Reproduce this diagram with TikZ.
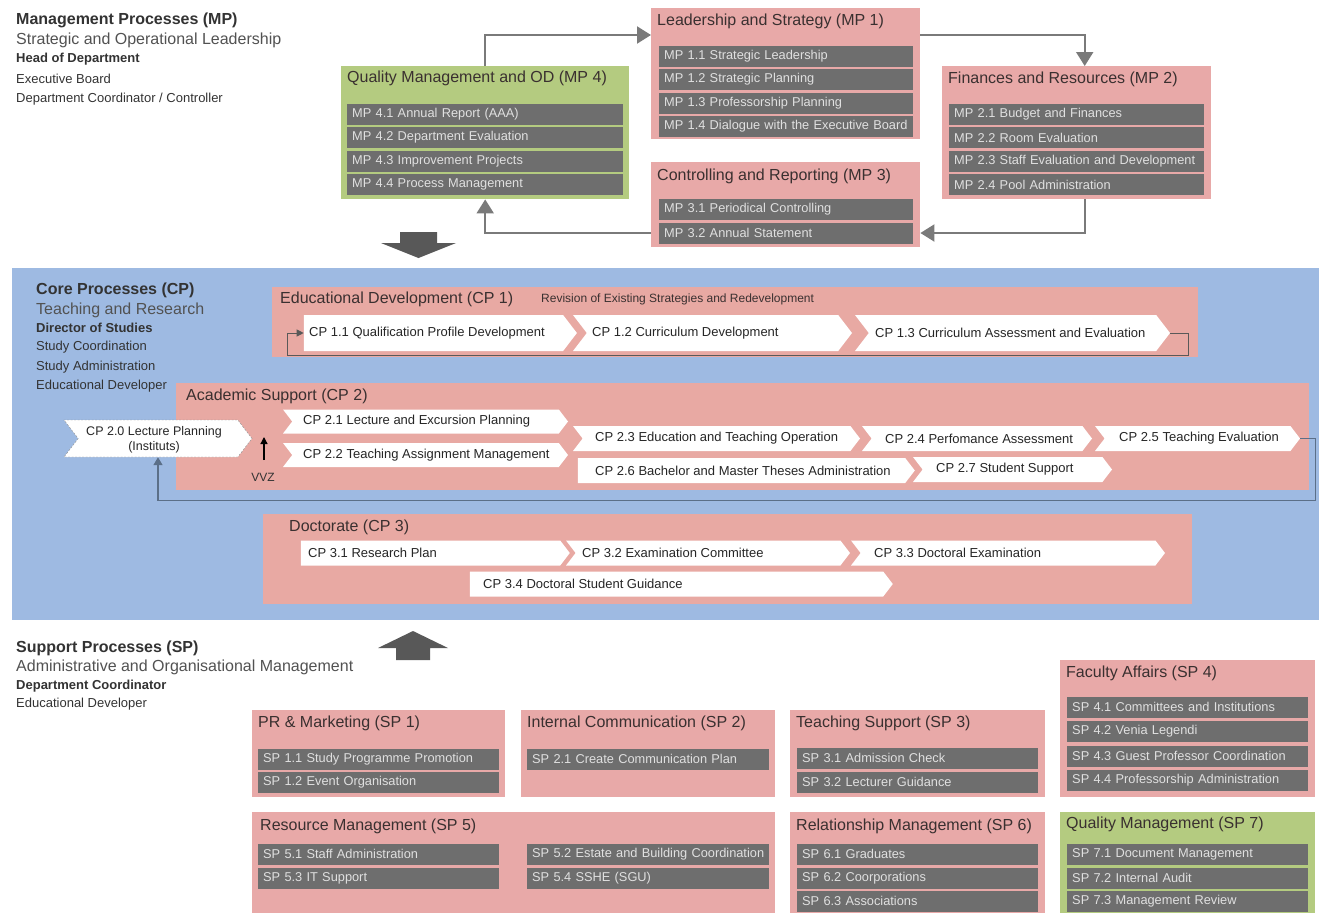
\documentclass[tikz,border=0pt]{standalone}
\usepackage{fontspec}
\setmainfont{Liberation Sans}
\usetikzlibrary{shapes.symbols,arrows.meta,calc}

\definecolor{mppink}{HTML}{E8A9A8}
\definecolor{cppink}{HTML}{E8A9A3}
\definecolor{qmgreen}{HTML}{B4CB80}
\definecolor{cpblue}{HTML}{9EBAE2}
\definecolor{itemgrey}{HTML}{6E6E6E}
\definecolor{itemtext}{HTML}{E0E0E0}
\definecolor{titletext}{HTML}{3A3030}
\definecolor{headtext}{HTML}{333333}
\definecolor{linegrey}{HTML}{7A7A7A}
\definecolor{loopblue}{HTML}{5B6F88}
\definecolor{blockgrey}{HTML}{585858}

\tikzset{
  box/.style={fill=#1, draw=none, inner sep=0, anchor=north west},
  boxtitle/.style={anchor=west, inner sep=0, font=\fontsize{16}{18}\selectfont, text=titletext},
  itm/.style={fill=itemgrey, text=itemtext, font=\fontsize{12.8}{14}\selectfont,
    minimum height=21, inner xsep=5, inner ysep=0, anchor=west, align=left, text width=#1},
  head/.style={anchor=west, inner sep=0, text=headtext, font=\fontsize{16}{18}\selectfont\bfseries},
  sub/.style={anchor=west, inner sep=0, text=headtext!85, font=\fontsize{16}{18}\selectfont},
  role/.style={anchor=west, inner sep=0, text=headtext, font=\fontsize{13}{15}\selectfont},
  rolebold/.style={role, font=\fontsize{13}{15}\selectfont\bfseries},
  chev/.style={shape=signal, signal to=east, signal from=west, signal pointer angle=105,
    fill=white, draw=none, inner sep=0, minimum height=#1},
  chevflat/.style={chev=#1, signal from=nowhere},
  chevtext/.style={anchor=west, inner sep=0, font=\fontsize{13}{15}\selectfont, text=black!85},
  flow/.style={draw=linegrey, line width=2, -{Triangle[width=17,length=14]}},
  loopone/.style={draw=black!65, line width=1, -{Triangle[width=7,length=7]}},
  looptwo/.style={draw=loopblue, line width=1.5, -{Triangle[width=9,length=8]}},
  blockarrow/.style={fill=blockgrey},
}

\begin{document}
\begin{tikzpicture}[x=1pt,y=-1pt]
\useasboundingbox (0,0) rectangle (1319,913);
\fill[white] (0,0) rectangle (1319,913);

% ---------------- Management processes ----------------
\node[head] (mph) at (16,20) {Management Processes (MP)};
\node[sub] (mps) at (16,40) {Strategic and Operational Leadership};
\node[rolebold] (mpr1) at (16,59) {Head of Department};
\node[role] (mpr2) at (16,79) {Executive Board};
\node[role] (mpr3) at (16,99) {Department Coordinator / Controller};

% MP 1
\node[box=mppink, minimum width=269, minimum height=131] (mp1) at (651,8) {};
\node[boxtitle] (mp1t) at (657,21) {Leadership and Strategy (MP 1)};
\node[itm=244] (mp11) at (659,56) {MP 1.1 Strategic Leadership};
\node[itm=244] (mp12) at (659,79.5) {MP 1.2 Strategic Planning};
\node[itm=244] (mp13) at (659,103) {MP 1.3 Professorship Planning};
\node[itm=244] (mp14) at (659,126.5) {MP 1.4 Dialogue with the Executive Board};

% MP 4
\node[box=qmgreen, minimum width=288, minimum height=133] (mp4) at (341,66) {};
\node[boxtitle] (mp4t) at (347,78) {Quality Management and OD (MP 4)};
\node[itm=266] (mp41) at (347,114) {MP 4.1 Annual Report (AAA)};
\node[itm=266] (mp42) at (347,137.5) {MP 4.2 Department Evaluation};
\node[itm=266] (mp43) at (347,161) {MP 4.3 Improvement Projects};
\node[itm=266] (mp44) at (347,184.5) {MP 4.4 Process Management};

% MP 2
\node[box=mppink, minimum width=269, minimum height=133] (mp2) at (942,66) {};
\node[boxtitle] (mp2t) at (948,79) {Finances and Resources (MP 2)};
\node[itm=245] (mp21) at (949,114) {MP 2.1 Budget and Finances};
\node[itm=245] (mp22) at (949,137.5) {MP 2.2 Room Evaluation};
\node[itm=245] (mp23) at (949,161) {MP 2.3 Staff Evaluation and Development};
\node[itm=245] (mp24) at (949,184.5) {MP 2.4 Pool Administration};

% MP 3
\node[box=mppink, minimum width=269, minimum height=85] (mp3) at (651,162) {};
\node[boxtitle] (mp3t) at (657,176) {Controlling and Reporting (MP 3)};
\node[itm=244] (mp31) at (659,209) {MP 3.1 Periodical Controlling};
\node[itm=244] (mp32) at (659,233) {MP 3.2 Annual Statement};

% management cycle
\coordinate (cyctop) at (0,35);
\coordinate (cycbot) at (0,233);
\draw[flow] (mp4.north) |- (mp1.west |- cyctop);
\draw[flow] (mp1.east |- cyctop) -| ([xshift=8]mp2.north);
\draw[flow] ([xshift=8]mp2.south) |- (mp3.east |- cycbot);
\draw[flow] (mp3.west |- cycbot) -| (mp4.south);

% block arrow from management to core processes
\fill[blockgrey] (400,232) -- (437,232) -- (437,243) -- (456,243) -- (418.5,258)
  -- (381,243) -- (400,243) -- cycle;

% ---------------- Core processes ----------------
\node[box=cpblue, minimum width=1307, minimum height=352] (cpband) at (12,268) {};

\node[head] (cph) at (36,290) {Core Processes (CP)};
\node[sub] (cps) at (36,310) {Teaching and Research};
\node[rolebold] (cpr1) at (36,328) {Director of Studies};
\node[role] (cpr2) at (36,347) {Study Coordination};
\node[role] (cpr3) at (36,367) {Study Administration};
\node[role] (cpr4) at (36,386) {Educational Developer};

% CP 1
\node[box=cppink, minimum width=926, minimum height=70] (cp1) at (272,287) {};
\node[boxtitle] (cp1t) at (280,299) {Educational Development (CP 1)};
\node[anchor=west, inner sep=0, font=\fontsize{12}{14}\selectfont, text=titletext] (cp1r) at (541,299)
  {Revision of Existing Strategies and Redevelopment};
\node[chevflat=36, minimum width=273] (c11) at (433.5,333) {};
\node[chevtext] (c11t) at (309,333) {CP 1.1 Qualification Profile Development};
\node[chev=36, minimum width=279] (c12) at (712.5,333) {};
\node[chevtext] (c12t) at (592,333) {CP 1.2 Curriculum Development};
\node[chev=36, minimum width=315] (c13) at (1012.5,333) {};
\node[chevtext] (c13t) at (875,333) {CP 1.3 Curriculum Assessment and Evaluation};
\draw[loopone] (c13.east) -- ++(18,0) -- ++(0,22) -| ([xshift=-16]c11.west) -- (c11.west);

% CP 2
\node[box=cppink, minimum width=1133, minimum height=107] (cp2) at (176,383) {};
\node[boxtitle] (cp2t) at (186,396) {Academic Support (CP 2)};
\node[chev=37, minimum width=188, draw=black!45, dash pattern=on 2pt off 1.5pt] (c20) at (158,438.5) {};
\node[chevtext, anchor=center, align=center, font=\fontsize{12.5}{15}\selectfont] (c20t) at (154,439.5)
  {CP 2.0 Lecture Planning\\(Instituts)};
\node[chev=24, minimum width=285] (c21) at (425.5,421.5) {};
\node[chevtext] (c21t) at (303,421.5) {CP 2.1 Lecture and Excursion Planning};
\node[chev=24, minimum width=285] (c22) at (425.5,455) {};
\node[chevtext] (c22t) at (303,455) {CP 2.2 Teaching Assignment Management};
\node[chev=25, minimum width=287] (c23) at (716.5,438.5) {};
\node[chevtext] (c23t) at (595,438.5) {CP 2.3 Education and Teaching Operation};
\node[chev=25, minimum width=230] (c24) at (977,438.5) {};
\node[chevtext] (c24t) at (885,438.5) {CP 2.4 Perfomance Assessment};
\node[chev=25, minimum width=205] (c25) at (1197.5,438.5) {};
\node[chevtext] (c25t) at (1119,438.5) {CP 2.5 Teaching Evaluation};
\node[chevflat=25, minimum width=337] (c26) at (741.5,470.5) {};
\node[chevtext] (c26t) at (595,470.5) {CP 2.6 Bachelor and Master Theses Administration};
\node[chev=25, minimum width=199] (c27) at (1012.5,469.5) {};
\node[chevtext] (c27t) at (936,469.5) {CP 2.7 Student Support};
\draw[looptwo] (c25.east) -- ++(15,0) -- ++(0,62) -| (c20.south);

\node[inner sep=0, font=\fontsize{12}{14}\selectfont, text=black!80] (vvz) at (263,477) {VVZ};
\coordinate (vvzbase) at (264,460);
\coordinate (vvztip) at (264,437);
\draw[black, line width=1.3, -{Triangle[width=7,length=7]}] (vvzbase) -- (vvztip);

% CP 3
\node[box=cppink, minimum width=929, minimum height=90] (cp3) at (263,514) {};
\node[boxtitle] (cp3t) at (289,527) {Doctorate (CP 3)};
\node[chevflat=25, minimum width=269] (c31) at (430.5,553) {};
\node[chevtext] (c31t) at (308,553) {CP 3.1 Research Plan};
\node[chev=25, minimum width=284] (c32) at (708,553) {};
\node[chevtext] (c32t) at (582,553) {CP 3.2 Examination Committee};
\node[chev=25, minimum width=314] (c33) at (1008,553) {};
\node[chevtext] (c33t) at (874,553) {CP 3.3 Doctoral Examination};
\node[chevflat=25, minimum width=423] (c34) at (676.5,584) {};
\node[chevtext] (c34t) at (483,584) {CP 3.4 Doctoral Student Guidance};

% block arrow from support to core processes
\fill[blockgrey] (396,660) -- (430,660) -- (430,648) -- (448,648) -- (413,631)
  -- (378,648) -- (396,648) -- cycle;

% ---------------- Support processes ----------------
\node[head] (sph) at (16,648) {Support Processes (SP)};
\node[sub] (sps) at (16,667) {Administrative and Organisational Management};
\node[rolebold] (spr1) at (16,686) {Department Coordinator};
\node[role] (spr2) at (16,704) {Educational Developer};

% SP 1
\node[box=mppink, minimum width=253, minimum height=87] (sp1) at (252,710) {};
\node[boxtitle] (sp1t) at (258,723) {PR \& Marketing (SP 1)};
\node[itm=231] (sp11) at (258,759) {SP 1.1 Study Programme Promotion};
\node[itm=231] (sp12) at (258,782) {SP 1.2 Event Organisation};

% SP 2
\node[box=mppink, minimum width=254, minimum height=87] (sp2) at (521,710) {};
\node[boxtitle] (sp2t) at (527,723) {Internal Communication (SP 2)};
\node[itm=232] (sp21) at (527,759) {SP 2.1 Create Communication Plan};

% SP 3
\node[box=mppink, minimum width=255, minimum height=87] (sp3) at (790,710) {};
\node[boxtitle] (sp3t) at (796,723) {Teaching Support (SP 3)};
\node[itm=231] (sp31) at (797,758) {SP 3.1 Admission Check};
\node[itm=231] (sp32) at (797,782) {SP 3.2 Lecturer Guidance};

% SP 4
\node[box=mppink, minimum width=255, minimum height=137] (sp4) at (1060,660) {};
\node[boxtitle] (sp4t) at (1066,673) {Faculty Affairs (SP 4)};
\node[itm=231] (sp41) at (1067,707) {SP 4.1 Committees and Institutions};
\node[itm=231] (sp42) at (1067,731) {SP 4.2 Venia Legendi};
\node[itm=231] (sp43) at (1067,756) {SP 4.3 Guest Professor Coordination};
\node[itm=231] (sp44) at (1067,780) {SP 4.4 Professorship Administration};

% SP 5
\node[box=mppink, minimum width=523, minimum height=101] (sp5) at (252,812) {};
\node[boxtitle] (sp5t) at (260,826) {Resource Management (SP 5)};
\node[itm=231] (sp51) at (258,854) {SP 5.1 Staff Administration};
\node[itm=231] (sp53) at (258,878) {SP 5.3 IT Support};
\node[itm=232] (sp52) at (527,854) {SP 5.2 Estate and Building Coordination};
\node[itm=232] (sp54) at (527,878) {SP 5.4 SSHE (SGU)};

% SP 6
\node[box=mppink, minimum width=255, minimum height=101] (sp6) at (790,812) {};
\node[boxtitle] (sp6t) at (796,826) {Relationship Management (SP 6)};
\node[itm=231] (sp61) at (797,854) {SP 6.1 Graduates};
\node[itm=231] (sp62) at (797,878) {SP 6.2 Coorporations};
\node[itm=231] (sp63) at (797,901) {SP 6.3 Associations};

% SP 7
\node[box=qmgreen, minimum width=255, minimum height=101] (sp7) at (1060,812) {};
\node[boxtitle] (sp7t) at (1066,824) {Quality Management (SP 7)};
\node[itm=231] (sp71) at (1067,854) {SP 7.1 Document Management};
\node[itm=231] (sp72) at (1067,878) {SP 7.2 Internal Audit};
\node[itm=231] (sp73) at (1067,901) {SP 7.3 Management Review};

\end{tikzpicture}
\end{document}
